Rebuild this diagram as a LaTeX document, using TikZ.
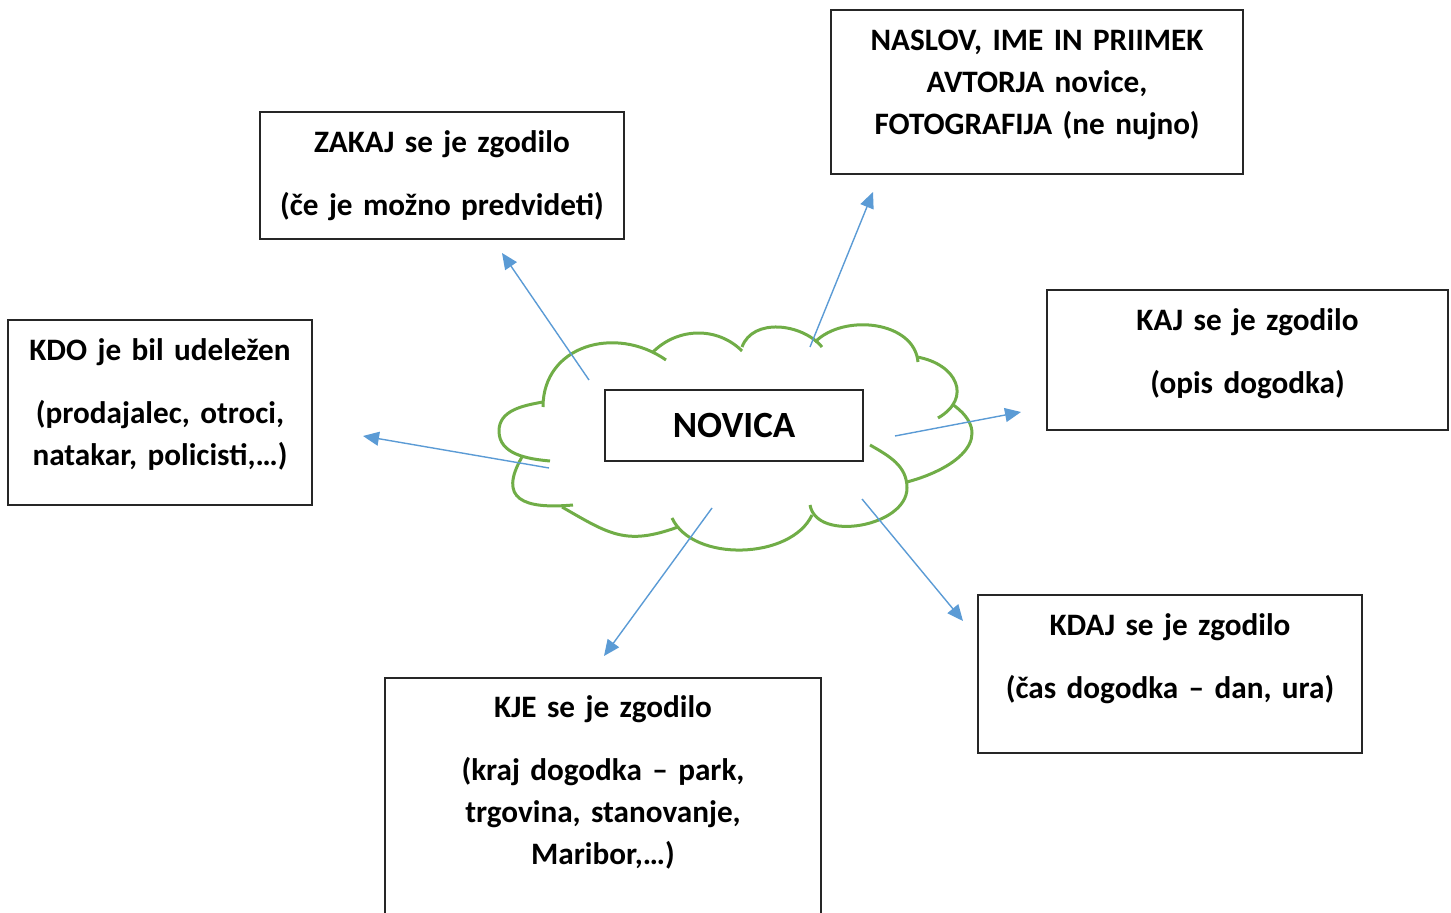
\documentclass[tikz,border=0pt]{standalone}
\usepackage{fontspec}
\setmainfont{Carlito}
\usetikzlibrary{arrows.meta}
\definecolor{cloudgreen}{HTML}{70AD47}
\definecolor{arrowblue}{HTML}{5B9BD5}

\begin{document}
\begin{tikzpicture}[x=0.5pt, y=0.5pt,
    box/.style={draw=black!85, line width=0.65pt, inner sep=0pt},
    boxtext/.style={anchor=base, align=center, inner sep=0pt, text width=#1,
        font=\fontsize{15.6}{21}\selectfont\bfseries},
    cloudline/.style={draw=cloudgreen, line width=1.5pt},
    pointer/.style={draw=arrowblue, line width=0.7pt, -{Triangle[length=8pt,width=7pt]}}]

    \useasboundingbox (0,0) rectangle (1451,-913);

    % Cloud round the main box
    \draw[cloudline] (543,-407) to[out=90,in=145,looseness=1.2] (666,-360);
    \draw[cloudline] (653,-352) to[out=45,in=135] (742,-351);
    \draw[cloudline] (742,-347) to[out=70,in=130] (822,-347);
    \draw[cloudline] (815,-342) to[out=45,in=95] (918,-362);
    \draw[cloudline] (917,-357) to[out=-10,in=30,looseness=1.6] (938,-418);
    \draw[cloudline] (952,-404) to[out=-35,in=15,looseness=1.55] (907,-482);
    \draw[cloudline] (870,-445) to[out=-30,in=90] (907,-488) to[out=-90,in=-80] (810,-505);
    \draw[cloudline] (812,-515) to[out=-115,in=-65,looseness=0.9] (672,-518);
    \draw[cloudline] (678,-527) to[out=200,in=-30,looseness=1.2] (562,-507);
    \draw[cloudline] (573,-505) to[out=185,in=-120,looseness=1.8] (522,-457);
    \draw[cloudline] (550,-461) to[out=175,in=-90] (499,-431) to[out=90,in=190] (543,-402);

    % Main box
    \node[box, fill=white, minimum width=129pt, minimum height=35.5pt,
        font=\fontsize{18.5}{22}\selectfont\bfseries] (novica) at (734,-425.5) {NOVICA};

    % Boxes round it
    \node[box, minimum width=206pt, minimum height=82pt] (naslov) at (1037,-92) {};
    \node[boxtext=206pt] (naslovtxt) at ([yshift=-20.5pt]naslov.north)
        {NASLOV, IME IN PRIIMEK\\ AVTORJA novice,\\ FOTOGRAFIJA (ne nujno)};

    \node[box, minimum width=182pt, minimum height=63.5pt] (zakaj) at (442,-175.5) {};
    \node[boxtext=182pt] (zakajtxt) at ([yshift=-20.5pt]zakaj.north)
        {ZAKAJ se je zgodilo\\[10.5pt] (če je možno predvideti)};

    \node[box, minimum width=152pt, minimum height=92.5pt] (kdo) at (160,-412.5) {};
    \node[boxtext=152pt] (kdotxt) at ([yshift=-20.5pt]kdo.north)
        {KDO je bil udeležen\\[10.5pt] (prodajalec, otroci,\\ natakar, policisti,…)};

    \node[box, minimum width=200.5pt, minimum height=70pt] (kaj) at (1247.5,-360) {};
    \node[boxtext=200pt] (kajtxt) at ([yshift=-20.5pt]kaj.north)
        {KAJ se je zgodilo\\[10.5pt] (opis dogodka)};

    \node[box, minimum width=192pt, minimum height=79pt] (kdaj) at (1170,-674) {};
    \node[boxtext=192pt] (kdajtxt) at ([yshift=-20.5pt]kdaj.north)
        {KDAJ se je zgodilo\\[10.5pt] (čas dogodka – dan, ura)};

    \node[box, minimum width=218pt, minimum height=123.5pt] (kje) at (603,-801.5) {};
    \node[boxtext=218pt] (kjetxt) at ([yshift=-20pt]kje.north)
        {KJE se je zgodilo\\[10.5pt] (kraj dogodka – park,\\ trgovina, stanovanje,\\ Maribor,…)};

    % Arrow ends
    \coordinate (naslovS) at (810,-347);  \coordinate (naslovE) at (873,-192);
    \coordinate (zakajS) at (589,-380);   \coordinate (zakajE) at (502,-253);
    \coordinate (kdoS) at (549,-468);     \coordinate (kdoE) at (363,-436);
    \coordinate (kajS) at (895,-436);     \coordinate (kajE) at (1021,-412);
    \coordinate (kdajS) at (862,-499);    \coordinate (kdajE) at (963,-621);
    \coordinate (kjeS) at (712,-508);     \coordinate (kjeE) at (604,-656);

    % Arrows
    \foreach \n in {naslov, zakaj, kdo, kaj, kdaj, kje} {
        \draw[pointer] (\n S) -- (\n E);
    }

\end{tikzpicture}
\end{document}
